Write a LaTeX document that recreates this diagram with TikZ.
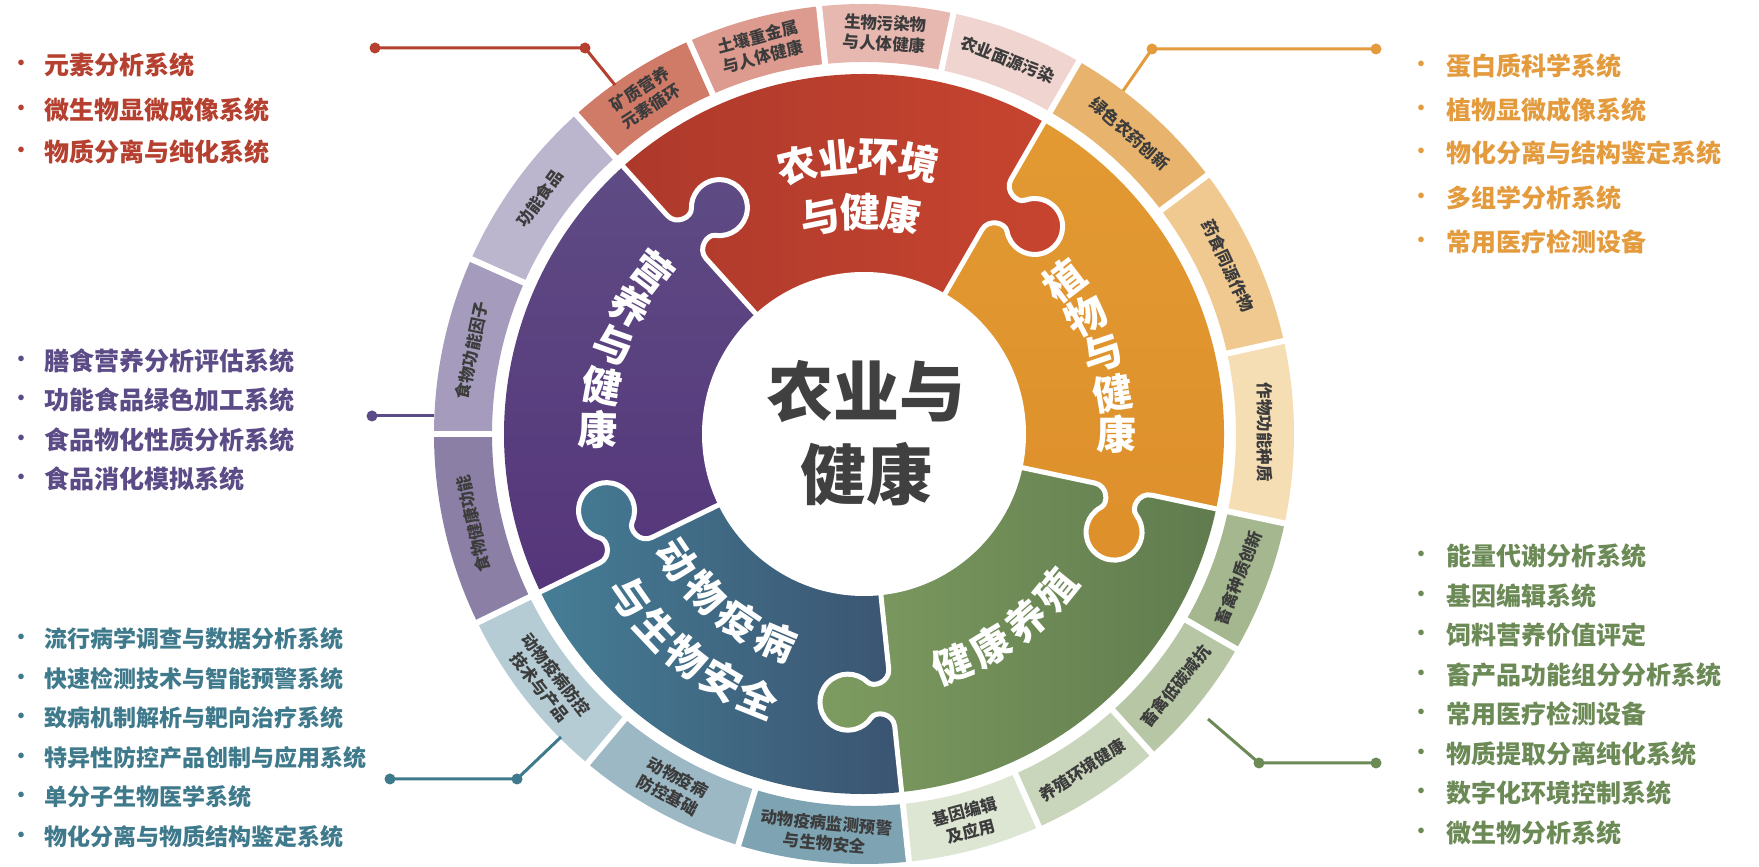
\documentclass[tikz,border=0pt]{standalone}
\usepackage{fontspec}
\newfontfamily\cjk{Noto Sans CJK SC}
\definecolor{tRed}{HTML}{B5402F}
\definecolor{tOr}{HTML}{E39B3E}
\definecolor{tGr}{HTML}{6C8A56}
\definecolor{tTe}{HTML}{3F7A8C}
\definecolor{tPu}{HTML}{5B4B86}
\definecolor{segTxt}{HTML}{3C3C3C}
\definecolor{cenTxt}{HTML}{404040}
\definecolor{pRedL}{HTML}{AD392B}
\definecolor{pRedR}{HTML}{CA4630}
\definecolor{pOrT}{HTML}{E39A33}
\definecolor{pOrB}{HTML}{DD8F2A}
\definecolor{pGrL}{HTML}{7E9D61}
\definecolor{pGrR}{HTML}{5F7A4D}
\definecolor{pTeL}{HTML}{47829A}
\definecolor{pTeR}{HTML}{3A5370}
\definecolor{pPuT}{HTML}{5F4D85}
\definecolor{pPuB}{HTML}{55357A}
\definecolor{sR1}{HTML}{D07A68}
\definecolor{sR2}{HTML}{DD9B90}
\definecolor{sR3}{HTML}{E7B8B0}
\definecolor{sR4}{HTML}{F0D4CF}
\definecolor{sO1}{HTML}{E8B36C}
\definecolor{sO2}{HTML}{F0C990}
\definecolor{sO3}{HTML}{F5DDB4}
\definecolor{sG1}{HTML}{A4B78F}
\definecolor{sG2}{HTML}{B7C6A5}
\definecolor{sG3}{HTML}{CAD6BC}
\definecolor{sG4}{HTML}{DDE5D3}
\definecolor{sT1}{HTML}{7EA3B3}
\definecolor{sT2}{HTML}{9CB8C4}
\definecolor{sT3}{HTML}{B6CCD5}
\definecolor{sP1}{HTML}{8C7FA6}
\definecolor{sP2}{HTML}{A59CBD}
\definecolor{sP3}{HTML}{BCB5CE}
\newcommand{\sect}[4]{(#1:#3) -- (#1:#4) arc[start angle=#1, end angle=#2, radius=#4] -- (#2:#3) arc[start angle=#2, end angle=#1, radius=#3] -- cycle}
\newcommand{\bcurve}{(150,0) -- (236,0) .. controls (249,0) and (253.9,-16.8) .. (247,-22.55) arc[start angle=130, end angle=410, radius=28] .. controls (276.1,-16.8) and (281,0) .. (294,0) -- (366,0)}
\newcommand{\kcurve}{(236,0) .. controls (249,0) and (253.9,-16.8) .. (247,-22.55) arc[start angle=130, end angle=410, radius=28] .. controls (276.1,-16.8) and (281,0) .. (294,0) -- (294,5) -- (236,5) -- cycle}
\newcommand{\piecefill}[4]{\begin{scope}\clip \sect{#1}{#2}{150}{360};\shade[#3] #4;\end{scope}}
\newcommand{\knobfill}[3]{\begin{scope}[rotate=#1]\clip \kcurve;\begin{scope}[rotate={-1*(#1)}]\shade[#2] #3;\end{scope}\end{scope}}
\begin{document}
\begin{tikzpicture}[x=1pt,y=1pt,
  seglab/.style={font={\cjk\bfseries\fontsize{16.5}{20.5}\selectfont}, text=segTxt, align=center, inner sep=0pt},
  plab/.style={font={\cjk\bfseries\fontsize{40}{44}\selectfont}, text=white, inner sep=0pt},
  li/.style={anchor=west, inner sep=0pt, font={\cjk\bfseries\fontsize{25}{30}\selectfont}},
  lit/.style={anchor=west, inner sep=0pt, font={\cjk\bfseries\fontsize{23}{28}\selectfont}},
  bul/.style={inner sep=0pt, font={\cjk\bfseries\fontsize{20}{24}\selectfont}},
  dotnode/.style={circle, inner sep=0pt, minimum size=11pt},
  conn/.style={line width=3pt}]
\useasboundingbox (0,0) rectangle (1759,867);
\fill[white] (0,0) rectangle (1759,867);
\begin{scope}[shift={(864,433)}]
 % puzzle pieces
 \piecefill{60}{132}{left color=pRedL, right color=pRedR}{(-245,110) rectangle (245,365)}
 \piecefill{-12}{60}{top color=pOrT, bottom color=pOrB}{(60,-145) rectangle (365,320)}
 \piecefill{-84}{-12}{left color=pGrL, right color=pGrR}{(-55,-365) rectangle (365,-20)}
 \piecefill{-154}{-84}{left color=pTeL, right color=pTeR}{(-365,-365) rectangle (45,-20)}
 \piecefill{132}{206}{top color=pPuT, bottom color=pPuB}{(-365,-165) rectangle (-80,305)}
 % knobs
 \knobfill{132}{top color=pPuT, bottom color=pPuB}{(-365,-165) rectangle (-80,305)}
 \knobfill{60}{left color=pRedL, right color=pRedR}{(-245,110) rectangle (245,365)}
 \knobfill{-12}{top color=pOrT, bottom color=pOrB}{(60,-145) rectangle (365,320)}
 \knobfill{-84}{left color=pGrL, right color=pGrR}{(-55,-365) rectangle (365,-20)}
 \knobfill{-154}{left color=pTeL, right color=pTeR}{(-365,-365) rectangle (45,-20)}
 % white boundaries
 \foreach \b in {132,60,-12,-84,-154} \draw[white, line width=5pt, line join=round, rotate=\b] \bcurve;
 \fill[white] (0,0) circle (162);
 % outer segments
 \foreach \a/\b/\c in {132/114/sR1, 114/96/sR2, 96/78/sR3, 78/60/sR4, 60/37/sO1, 37/12.5/sO2, 12.5/-12/sO3, -12/-30/sG1, -30/-48/sG2, -48/-66/sG3, -66/-84/sG4, -84/-107/sT1, -107/-130/sT2, -130/-154/sT3, 206/180/sP1, 180/156/sP2, 156/132/sP3}
   \fill[\c] \sect{\a}{\b}{372}{430};
 \foreach \g in {132,114,96,78,60,37,12.5,-12,-30,-48,-66,-84,-107,-130,-154,180,156}
   \draw[white, line width=6pt] (\g:366) -- (\g:436);
 % segment labels
 \node[seglab, rotate=33] (s1) at (123:401) {矿质营养\\元素循环};
 \node[seglab, rotate=15] (s2) at (105:401) {土壤重金属\\与人体健康};
 \node[seglab, rotate=-3] (s3) at (87:401) {生物污染物\\与人体健康};
 \node[seglab, rotate=-21] (s4) at (69:401) {农业面源污染};
 \node[seglab, rotate=-41.5] (s5) at (48.5:401) {绿色农药创新};
 \node[seglab, rotate=-65.25] (s6) at (24.75:401) {药食同源作物};
 \node[seglab, rotate=-89.75] (s7) at (0.25:401) {作物功能种质};
 \node[seglab, rotate=69] (s8) at (-21:401) {畜禽种质创新};
 \node[seglab, rotate=51] (s9) at (-39:401) {畜禽低碳减抗};
 \node[seglab, rotate=33] (s10) at (-57:401) {养殖环境健康};
 \node[seglab, rotate=15] (s11) at (-75:401) {基因编辑\\及应用};
 \node[seglab, rotate=-5.5] (s12) at (-95.5:401) {动物疫病监测预警\\与生物安全};
 \node[seglab, rotate=-28.5] (s13) at (-118.5:401) {动物疫病\\防控基础};
 \node[seglab, rotate=-52] (s14) at (-142:401) {动物疫病防控\\技术与产品};
 \node[seglab, rotate=103] (s15) at (193:401) {食物健康功能};
 \node[seglab, rotate=78] (s16) at (168:401) {食物功能因子};
 \node[seglab, rotate=54] (s17) at (144:401) {功能食品};
 % puzzle labels
 \foreach \ch/\ang [count=\i] in {农/104,业/95.5,环/87,境/78.5}
   \node[plab, rotate=\ang-90] (pa\i) at (\ang:277) {\ch};
 \foreach \ch/\ang [count=\i] in {与/101.5,健/91,康/80.5}
   \node[plab, rotate=\ang-90] (pb\i) at (\ang:222) {\ch};
 \foreach \ch/\ang [count=\i] in {植/37.5,物/28,与/18.7,健/9.3,康/0}
   \node[plab, rotate=\ang] (pc\i) at (\ang:252) {\ch};
 \foreach \ch/\ang [count=\i] in {营/142.5,养/151.5,与/160.5,健/169.7,康/179}
   \node[plab, rotate=\ang-180] (pd\i) at (\ang:266) {\ch};
 \foreach \ch/\ang [count=\i] in {健/-69,康/-59,养/-49,殖/-39}
   \node[plab, rotate=\ang+90] (pe\i) at (\ang:247) {\ch};
 \foreach \ch/\ang [count=\i] in {动/-146,物/-135,疫/-124,病/-113}
   \node[plab, rotate=\ang+90] (pf\i) at (\ang:225) {\ch};
 \foreach \ch/\ang [count=\i] in {与/-145,生/-136.7,物/-128.4,安/-120.1,全/-111.8}
   \node[plab, rotate=\ang+90] (pg\i) at (\ang:285) {\ch};
 % centre
 \node[font={\cjk\bfseries\fontsize{66}{80}\selectfont}, text=cenTxt, inner sep=0pt] (c1) at (2,42) {农业与};
 \node[font={\cjk\bfseries\fontsize{66}{80}\selectfont}, text=cenTxt, inner sep=0pt] (c2) at (2,-40) {健康};
\end{scope}
% lists
\foreach \t/\y [count=\i] in {元素分析系统/802, 微生物显微成像系统/757, 物质分离与纯化系统/715}
  {\node[li, text=tRed] (r\i) at (44,\y) {\t}; \node[bul, text=tRed] (rb\i) at (21,\y) {•};}
\foreach \t/\y [count=\i] in {膳食营养分析评估系统/506, 功能食品绿色加工系统/467, 食品物化性质分析系统/427, 食品消化模拟系统/388}
  {\node[li, text=tPu] (u\i) at (44,\y) {\t}; \node[bul, text=tPu] (ub\i) at (21,\y) {•};}
\foreach \t/\y [count=\i] in {流行病学调查与数据分析系统/228, 快速检测技术与智能预警系统/188, 致病机制解析与靶向治疗系统/149, 特异性防控产品创制与应用系统/109, 单分子生物医学系统/70, 物化分离与物质结构鉴定系统/30}
  {\node[lit, text=tTe] (t\i) at (44,\y) {\t}; \node[bul, text=tTe] (tb\i) at (21,\y) {•};}
\foreach \t/\y [count=\i] in {蛋白质科学系统/801, 植物显微成像系统/757, 物化分离与结构鉴定系统/714, 多组学分析系统/669, 常用医疗检测设备/625}
  {\node[li, text=tOr] (o\i) at (1446,\y) {\t}; \node[bul, text=tOr] (ob\i) at (1421,\y) {•};}
\foreach \t/\y [count=\i] in {能量代谢分析系统/311, 基因编辑系统/271, 饲料营养价值评定/232, 畜产品功能组分分析系统/192, 常用医疗检测设备/153, 物质提取分离纯化系统/113, 数字化环境控制系统/74, 微生物分析系统/34}
  {\node[li, text=tGr] (g\i) at (1446,\y) {\t}; \node[bul, text=tGr] (gb\i) at (1421,\y) {•};}
% connectors
\node[dotnode, fill=tRed] (rdA) at (375,819) {};
\node[dotnode, fill=tRed] (rdB) at (585,819) {};
\coordinate (rC) at (615,782);
\draw[conn, tRed] (rdA.center) -- (rdB.center) -- (rC);
\node[dotnode, fill=tOr] (odA) at (1376,818) {};
\node[dotnode, fill=tOr] (odB) at (1152,818) {};
\coordinate (oC) at (1123,776);
\draw[conn, tOr] (odA.center) -- (odB.center) -- (oC);
\node[dotnode, fill=tPu] (udA) at (372,451) {};
\coordinate (uC) at (434,451);
\draw[conn, tPu] (udA.center) -- (uC);
\node[dotnode, fill=tTe] (tdA) at (390,88) {};
\node[dotnode, fill=tTe] (tdB) at (517,88) {};
\coordinate (tC) at (561,130);
\draw[conn, tTe] (tdA.center) -- (tdB.center) -- (tC);
\coordinate (gC) at (1208,148);
\node[dotnode, fill=tGr] (gdB) at (1259,104) {};
\node[dotnode, fill=tGr] (gdA) at (1376,104) {};
\draw[conn, tGr] (gC) -- (gdB.center) -- (gdA.center);
\end{tikzpicture}
\end{document}
